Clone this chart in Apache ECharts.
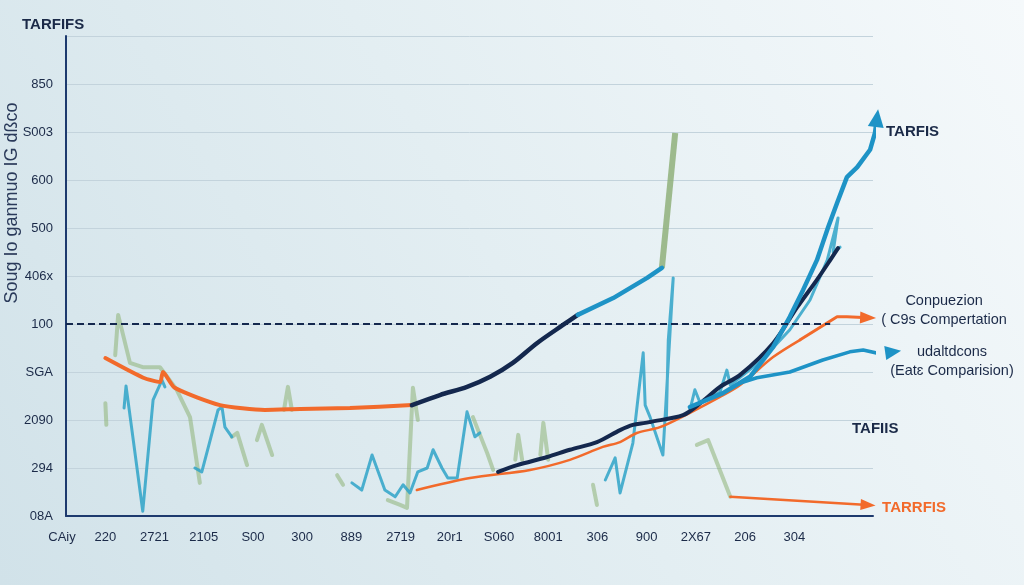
<!DOCTYPE html>
<html><head><meta charset="utf-8">
<script src="https://cdn.jsdelivr.net/npm/echarts@6/dist/echarts.min.js"></script>
<style>html,body{margin:0;padding:0;}#c{width:1024px;height:585px;}</style>
</head><body><div id="c"></div>
<script>
// ---- tick labels ----
const yTickLabels = ['08A', '294', '2090', 'SGA', '100', '406x', '500', '600', 'S003', '850'];
const xTickLabels = ['220', '2721', '2105', 'S00', '300', '889', '2719', '20r1', 'S060', '8001', '306', '900', '2X67', '206', '304'];
const xOriginLabel = 'CAiy';
const chartTitle = 'TARFIFS';
const yAxisTitle = 'Soug Io ganmuo IG dßco';

// ---- reference (dashed) level ----
const refLevel = 4;
const refFrom = -0.8;
const refTo = 14.73;

// ---- main series ----
const orangeMain = [[0,3.29],[0.77,2.88],[1.11,2.79],[1.17,3.0],[1.41,2.67],[2.33,2.31],[3.24,2.21],[3.96,2.23],[4.97,2.25],[6.23,2.31]];
const navyUpper = [[6.23,2.31],[6.8,2.52],[7.35,2.69],[7.82,2.9],[8.28,3.19],[8.77,3.6],[9.3,3.98],[9.6,4.19]];
const blueUpper = [[9.6,4.19],[10.32,4.54],[11.01,4.96],[11.31,5.17]];
const greenSpike = [[11.31,5.17],[11.58,7.98]];
const navyLower = [[7.98,0.92],[8.37,1.06],[8.98,1.23],[9.44,1.38],[9.99,1.54],[10.46,1.79],[10.72,1.9],[10.97,1.94],[11.07,1.96],[11.74,2.1],[12.09,2.35],[12.49,2.69],[12.9,2.94],[13.57,3.6],[14.06,4.35],[14.46,4.92],[14.73,5.33],[14.89,5.58]];
const orangeLower = [[6.33,0.54],[7.41,0.79],[8.63,0.96],[9.44,1.17],[10.11,1.44],[10.46,1.54],[10.8,1.73],[11.27,1.85],[11.88,2.15],[12.49,2.48],[12.9,2.73],[13.57,3.31],[14.12,3.67],[14.87,4.15],[15.07,4.15],[15.5,4.13]];
const blueBig = [[11.88,2.27],[12.55,2.56],[13.1,2.9],[13.57,3.52],[13.91,4.15],[14.18,4.71],[14.46,5.33],[14.58,5.69],[14.69,6.02],[14.87,6.52],[15.07,7.06],[15.28,7.27],[15.54,7.63],[15.64,7.98],[15.68,8.29]];
const blueUdal = [[12.9,2.77],[13.24,2.88],[13.91,3.0],[14.58,3.25],[15.13,3.42],[15.4,3.46],[15.74,3.38],[16.01,3.42]];
const orangeBottom = [[12.7,0.4],[15.5,0.23]];

// ---- noisy teal series ----
const tealA = [[0.38,2.25],[0.42,2.71],[0.76,0.1],[0.97,2.42],[1.15,2.83],[1.21,2.69]];
const tealB = [[1.82,1.0],[1.96,0.92],[2.13,1.58],[2.29,2.21],[2.37,2.27],[2.43,1.85],[2.57,1.65]];
const tealC = [[5.01,0.69],[5.21,0.54],[5.42,1.27],[5.68,0.54],[5.89,0.4],[6.05,0.65],[6.19,0.48],[6.35,0.92],[6.54,1.0],[6.66,1.38],[6.84,1.0],[6.96,0.79],[7.15,0.79],[7.35,2.17],[7.51,1.65],[7.61,1.73]];
const tealD = [[10.16,0.75],[10.36,1.21],[10.46,0.48],[10.72,1.52],[10.93,3.4],[10.97,2.31],[11.07,2.06],[11.33,1.27],[11.54,4.96],[11.44,3.67],[11.4,2.0]];
const tealE = [[11.88,2.21],[11.98,2.63],[12.09,2.35],[12.49,2.58],[12.63,3.04],[12.7,2.73],[13.3,3.21],[13.91,3.88],[14.32,4.5],[14.67,5.33],[14.89,6.21],[14.79,5.5],[14.93,5.6]];

// ---- noisy green series ----
const green0 = [[0,2.35],[0.02,1.9]];
const green1 = [[0.2,3.35],[0.26,4.19],[0.5,3.19],[0.76,3.1],[1.11,3.1],[1.45,2.63],[1.72,2.06],[1.92,0.69]];
const green2 = [[2.57,1.65],[2.68,1.73],[2.88,1.06]];
const green3 = [[3.08,1.58],[3.18,1.9],[3.39,1.27]];
const green4 = [[3.63,2.21],[3.71,2.69],[3.79,2.21]];
const green5 = [[4.71,0.85],[4.83,0.65]];
const green6 = [[5.74,0.33],[5.99,0.23],[6.13,0.17],[6.25,2.67],[6.35,2.0]];
const green7 = [[7.47,2.06],[7.76,1.31],[7.88,0.96]];
const green8 = [[8.33,1.17],[8.39,1.69],[8.47,1.17]];
const green9 = [[8.84,1.27],[8.9,1.94],[9.0,1.17]];
const green10 = [[9.91,0.65],[9.99,0.23]];
const green11 = [[12.02,1.48],[12.25,1.58],[12.7,0.4]];

// ---- labels ----
const lblBig = 'TARFIS';
const lblUpperOrange = 'Conpuezion\n( C9s Compertation';
const lblUdal = 'udaltdcons\n(Eatɛ Comparision)';
const lblBottom = 'TARRFIS';
const lblMid = 'TAFIIS';

const NAVY = '#14284e', ORANGE = '#f26a2b', BLUE = '#1e93c6', TEAL = '#2fa3c8', GREEN = '#95b881';
const TXT = '#1b2a48';
const FONT = 'Liberation Sans';

function line(id, data, color, width, opts) {
  return Object.assign({
    id: id, type: 'line', data: data, clip: false, silent: true,
    symbol: 'none', showSymbol: false, smooth: false,
    lineStyle: { color: color, width: width, cap: 'round', join: 'round' },
    itemStyle: { color: color }, z: 3
  }, opts || {});
}
function arrow(id, data, color, width, size, label, opts) {
  const last = data.length - 1;
  return line(id, data, color, width, Object.assign({
    symbol: 'triangle', showSymbol: true,
    symbolSize: function (v, p) { return p.dataIndex === last ? size : 0; },
    endLabel: label
  }, opts || {}));
}

const greens = [green0, green1, green2, green3, green4, green5, green6, green7, green8, green9, green10, green11]
  .map((d, i) => line('g' + i, d, GREEN, 4, { lineStyle: { color: GREEN, width: 4, opacity: 0.6, cap: 'round', join: 'round' }, z: 1 }));
const teals = [tealA, tealB, tealC, tealD, tealE]
  .map((d, i) => line('t' + i, d, TEAL, 3, { lineStyle: { color: TEAL, width: 3, opacity: 0.85, cap: 'round', join: 'round' }, z: 2 }));

const orangeLowerBody = orangeLower.slice(0, -3);
const orangeLowerHead = orangeLower.slice(-4);

const series = [].concat(greens, teals, [
  line('greenSpike', greenSpike, '#8fb07a', 6, { lineStyle: { color: '#8fb07a', width: 6, opacity: 0.85 }, z: 2 }),
  line('orangeMain', orangeMain, ORANGE, 4, {
    smooth: 0.2,
    markLine: {
      silent: true, symbol: 'none', label: { show: false },
      lineStyle: { color: NAVY, type: [7, 4], width: 2 },
      data: [[{ coord: [refFrom, refLevel] }, { coord: [refTo, refLevel] }]]
    }
  }),
  line('navyUpper', navyUpper, NAVY, 4.5, { smooth: 0.3 }),
  line('blueUpper', blueUpper, BLUE, 4.5),
  line('orangeLower', orangeLowerBody, ORANGE, 2.5, { smooth: 0.3 }),
  arrow('orangeArrow', orangeLowerHead, ORANGE, 3, [12, 16], {
    show: true, formatter: lblUpperOrange, color: TXT, fontFamily: FONT, fontSize: 14.5,
    lineHeight: 19, align: 'center', distance: 0, offset: [76, -7]
  }),
  line('navyLower', navyLower, NAVY, 4, { smooth: 0.3 }),
  arrow('blueBig', blueBig, BLUE, 4.5, [16, 18], {
    show: true, formatter: lblBig, color: TXT, fontFamily: FONT, fontSize: 15, fontWeight: 'bold',
    distance: 10, offset: [0, 7]
  }),
  arrow('blueUdal', blueUdal, BLUE, 3.5, [14, 16], {
    show: true, formatter: lblUdal, color: TXT, fontFamily: FONT, fontSize: 14.5,
    lineHeight: 19, align: 'center', distance: 0, offset: [76, 9]
  }),
  arrow('orangeBottom', orangeBottom, ORANGE, 2.5, [11, 15], {
    show: true, formatter: lblBottom, color: ORANGE, fontFamily: FONT, fontSize: 15, fontWeight: 'bold',
    distance: 14, offset: [0, 3]
  })
]);

const chart = echarts.init(document.getElementById('c'), null, { renderer: 'canvas' });
const option = {
  animation: false,
  backgroundColor: {
    type: 'linear', x: 1, y: 0, x2: 0, y2: 1,
    colorStops: [{ offset: 0, color: '#f5f9fb' }, { offset: 0.5, color: '#e3eef2' }, { offset: 1, color: '#d1e2e9' }]
  },
  textStyle: { fontFamily: FONT },
  grid: { left: 66, right: 151, top: 36, bottom: 69, outerBoundsMode: 'none', containLabel: false },
  xAxis: {
    type: 'value', min: -0.8, max: 15.6,
    name: xOriginLabel, nameLocation: 'start', nameGap: 4,
    nameTextStyle: { color: TXT, fontSize: 13, fontFamily: FONT, align: 'center', verticalAlign: 'top', padding: [15, 0, 0, 0] },
    axisLine: { onZero: false, lineStyle: { color: '#1d3a6e', width: 2 } },
    axisTick: { show: false, customValues: xTickLabels.map((_, i) => i) },
    splitLine: { show: false },
    axisLabel: {
      customValues: xTickLabels.map((_, i) => i),
      formatter: v => xTickLabels[Math.round(v)] || '',
      color: TXT, fontSize: 13, fontFamily: FONT, margin: 15
    }
  },
  yAxis: {
    type: 'value', min: 0, max: 10, interval: 1,
    axisLine: { show: true, onZero: false, lineStyle: { color: '#1d3a6e', width: 2 } },
    axisTick: { show: false },
    splitLine: { lineStyle: { color: '#c3d3dc', width: 1 } },
    axisLabel: {
      formatter: v => (yTickLabels[v] !== undefined ? yTickLabels[v] : ''),
      color: TXT, fontSize: 13, fontFamily: FONT, margin: 13
    }
  },
  graphic: [
    { type: 'text', left: 22, top: 17, style: { text: chartTitle, fill: TXT, font: 'bold 15px "' + FONT + '"' } },
    { type: 'text', x: 12, y: 203, rotation: Math.PI / 2,
      style: { text: yAxisTitle, fill: '#2a3a5a', font: '18px "' + FONT + '"', align: 'center', verticalAlign: 'middle' } },
    { type: 'text', left: 852, top: 421, style: { text: lblMid, fill: TXT, font: 'bold 15px "' + FONT + '"' } }
  ],
  series: series
};
chart.setOption(option);

// orient arrow heads along the final segment of each arrow series
function rotFor(data) {
  const a = chart.convertToPixel({ gridIndex: 0 }, data[data.length - 2]);
  const b = chart.convertToPixel({ gridIndex: 0 }, data[data.length - 1]);
  const theta = Math.atan2(-(b[1] - a[1]), b[0] - a[0]) * 180 / Math.PI;
  return theta - 90;
}
const arrows = { orangeArrow: orangeLowerHead, blueBig: blueBig, blueUdal: blueUdal, orangeBottom: orangeBottom };
chart.setOption({
  series: Object.keys(arrows).map(id => {
    const d = arrows[id], last = d.length - 1, r = rotFor(d);
    return { id: id, symbolRotate: (v, p) => (p.dataIndex === last ? r : 0) };
  })
});
</script>
</body></html>
